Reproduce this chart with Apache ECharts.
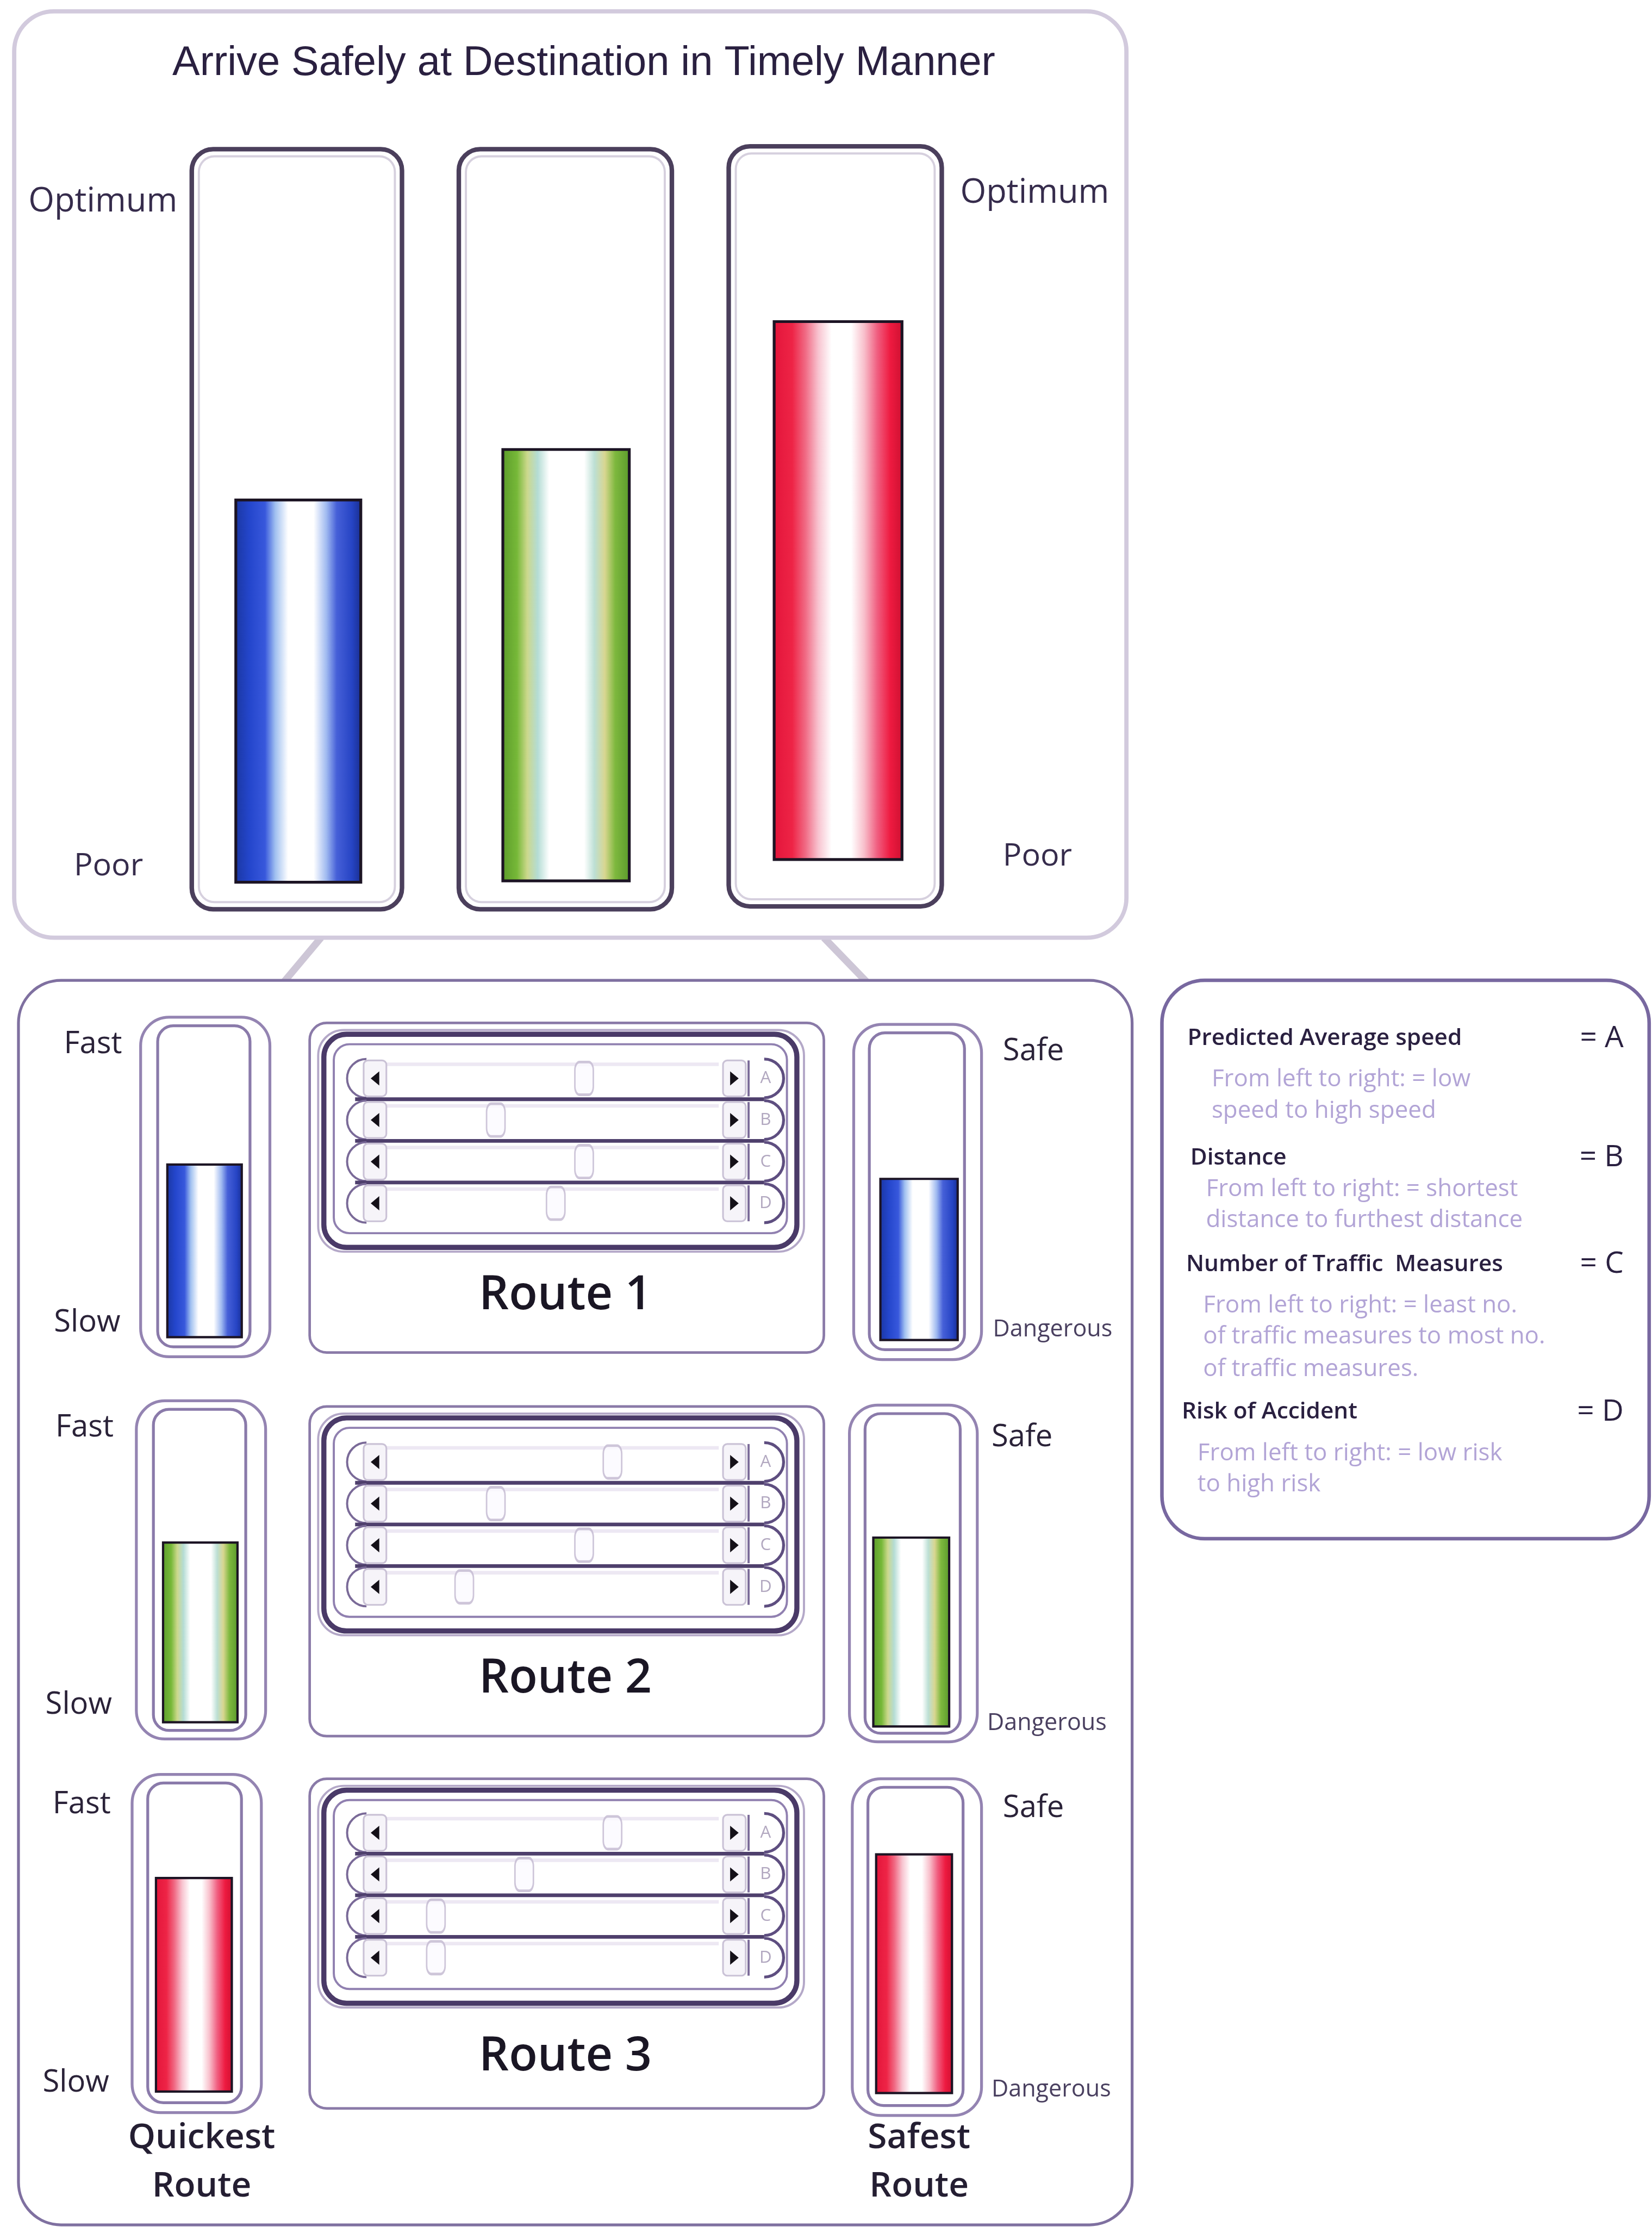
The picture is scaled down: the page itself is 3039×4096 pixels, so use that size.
<!DOCTYPE html>
<html>
<head>
<meta charset="utf-8">
<script src="https://cdn.jsdelivr.net/npm/echarts@6/dist/echarts.min.js"></script>
<style>
  html, body { margin: 0; padding: 0; background: #ffffff; }
  #chart { width: 3039px; height: 4096px; }
</style>
</head>
<body>
<div id="chart"></div>
<script>
// layout is measured on a 1163 px wide copy of the picture, then scaled up
const K = 3039 / 1163;
const px = v => v * K;

// ---- data ----
const routes = ['Route 1', 'Route 2', 'Route 3'];
const overallScore = [54, 61, 78];   // Poor (0) -> Optimum (100)
const speedScore = [57, 59, 71];     // Slow (0) -> Fast (100)
const safetyScore = [54, 62, 80];    // Dangerous (0) -> Safe (100)
const sliderRows = ['A', 'B', 'C', 'D'];
const route1Sliders = [60, 32, 60, 51];
const route2Sliders = [69, 32, 60, 22];
const route3Sliders = [69, 41, 13, 13];
const routeSliders = [route1Sliders, route2Sliders, route3Sliders];

const legendItems = [
  { title: 'Predicted Average speed', key: '= A', lines: ['From left to right: = low', 'speed to high speed'] },
  { title: 'Distance', key: '= B', lines: ['From left to right: = shortest', 'distance to furthest distance'] },
  { title: 'Number of Traffic  Measures', key: '= C', lines: ['From left to right: = least no.', 'of traffic measures to most no.', 'of traffic measures.'] },
  { title: 'Risk of Accident', key: '= D', lines: ['From left to right: = low risk', 'to high risk'] }
];

// ---- layout ----
const topFrames = [
  { x0: 135, x1: 283, y0: 105, y1: 640 },
  { x0: 323, x1: 473, y0: 105, y1: 640 },
  { x0: 513, x1: 663, y0: 103, y1: 638 }
];
const topBars = [
  { x0: 165, x1: 255, top: 120, bottom: 622 },
  { x0: 353, x1: 444, top: 120, bottom: 621 },
  { x0: 544, x1: 636, top: 118, bottom: 606 }
];
const leftGauges = [
  { ox0: 99, ox1: 190, oy0: 716, oy1: 955, ix0: 111, ix1: 176, iy0: 722, iy1: 948, x0: 117, x1: 171, top: 726, bottom: 942 },
  { ox0: 96, ox1: 187, oy0: 986, oy1: 1224, ix0: 108, ix1: 173, iy0: 992, iy1: 1218, x0: 114, x1: 168, top: 996, bottom: 1213 },
  { ox0: 93, ox1: 184, oy0: 1249, oy1: 1487, ix0: 104, ix1: 170, iy0: 1255, iy1: 1480, x0: 109, x1: 164, top: 1259, bottom: 1473 }
];
const rightGauges = [
  { ox0: 601, ox1: 691, oy0: 721, oy1: 957, ix0: 612, ix1: 679, iy0: 727, iy1: 950, x0: 619, x1: 675, top: 731, bottom: 944 },
  { ox0: 598, ox1: 688, oy0: 989, oy1: 1226, ix0: 609, ix1: 676, iy0: 995, iy1: 1220, x0: 614, x1: 669, top: 999, bottom: 1216 },
  { ox0: 600, ox1: 691, oy0: 1252, oy1: 1489, ix0: 611, ix1: 678, iy0: 1258, iy1: 1482, x0: 616, x1: 671, top: 1262, bottom: 1474 }
];
const panelTops = [720, 990, 1252];
const sliderTops = [744.4, 1014.4, 1275.4];
const routeLabelY = [912, 1182, 1448];
const sideLabels = [
  { fast: [45, 735], slow: [38, 931], safe: [706, 740], danger: [699, 936] },
  { fast: [39, 1005], slow: [32, 1200], safe: [698, 1012], danger: [695, 1213] },
  { fast: [37, 1270], slow: [30, 1466], safe: [706, 1273], danger: [698, 1471] }
];

const gradStops = [
  [[0, '#1a36a0'], [0.12, '#2446cc'], [0.24, '#3858dc'], [0.32, '#a0c0f0'], [0.42, '#ffffff'], [0.62, '#ffffff'], [0.72, '#a0baf0'], [0.8, '#4660d8'], [0.92, '#2644c4'], [1, '#182c8c']],
  [[0, '#5a9a2a'], [0.12, '#76b838'], [0.2, '#ccd88c'], [0.28, '#b4dcd4'], [0.37, '#ffffff'], [0.64, '#ffffff'], [0.72, '#bcdfd4'], [0.8, '#d8d690'], [0.88, '#7eb83e'], [1, '#58982a']],
  [[0, '#e2143a'], [0.15, '#ee2446'], [0.25, '#f06a84'], [0.35, '#f8c4d0'], [0.45, '#ffffff'], [0.6, '#ffffff'], [0.7, '#f8bfcb'], [0.8, '#f05e80'], [0.9, '#ee1a40'], [1, '#cc1030']]
];

const LABEL_FONT = '"Open Sans", "DejaVu Sans", sans-serif';
const TITLE_FONT = '"Liberation Sans", Arial, sans-serif';

function font(size, weight) {
  return (weight || 'normal') + ' ' + px(size).toFixed(1) + 'px ' + LABEL_FONT;
}

function gradient(i) {
  return {
    type: 'linear', x: 0, y: 0, x2: 1, y2: 0,
    colorStops: gradStops[i].map(s => ({ offset: s[0], color: s[1] }))
  };
}

const grids = [];
const xAxes = [];
const yAxes = [];
const series = [];

function addGauge(rect, name, value, colorIndex, borderW) {
  const i = grids.length;
  grids.push({
    left: px(rect.x0), top: px(rect.top),
    width: px(rect.x1 - rect.x0), height: px(rect.bottom - rect.top)
  });
  xAxes.push({ type: 'category', gridIndex: i, data: [name], show: false });
  yAxes.push({ type: 'value', gridIndex: i, min: 0, max: 100, show: false });
  series.push({
    type: 'bar', xAxisIndex: i, yAxisIndex: i, data: [value],
    barWidth: '100%', silent: true,
    itemStyle: { color: gradient(colorIndex), borderColor: '#1c1424', borderWidth: px(borderW) }
  });
}

function renderSliderRow(params, api) {
  const cs = params.coordSys;
  const idx = api.value(1);
  const c = api.coord([0, idx]);
  const h = api.size([0, 1])[1];
  const cy = c[1];
  const x0 = cs.x;
  const x1 = cs.x + cs.width;
  const ch = [];
  ch.push({ type: 'line', shape: { x1: x0 - px(6), y1: cy - h * 0.34, x2: x1 + px(6), y2: cy - h * 0.34 },
    style: { stroke: '#ede8f3', lineWidth: px(2.5) } });
  ch.push({ type: 'arc', shape: { cx: x0 - px(20), cy: cy, r: h / 2 - px(1), startAngle: Math.PI / 2, endAngle: Math.PI * 1.5 },
    style: { stroke: '#7a6a98', lineWidth: px(1.5), fill: null } });
  ch.push({ type: 'arc', shape: { cx: x1 + px(38), cy: cy, r: h / 2 - px(1), startAngle: -Math.PI / 2, endAngle: Math.PI / 2 },
    style: { stroke: '#5e4e80', lineWidth: px(2), fill: null } });
  ch.push({ type: 'line', shape: { x1: x1 + px(27), y1: cy - h / 2 + px(2), x2: x1 + px(27), y2: cy + h / 2 - px(2) },
    style: { stroke: '#7a6a98', lineWidth: px(1.5) } });
  ch.push({ type: 'text', style: { text: sliderRows[idx], x: x1 + px(39), y: cy, fill: '#b2a8c0',
    font: font(12), textAlign: 'center', textVerticalAlign: 'middle', align: 'center', verticalAlign: 'middle' } });
  ch.push({ type: 'rect', shape: { x: x0 - px(22), y: cy - h / 2 + px(2), width: px(16), height: h - px(4), r: px(3) },
    style: { stroke: '#cac2d6', lineWidth: px(1.2), fill: '#f6f4f9' } });
  ch.push({ type: 'polygon', shape: { points: [[x0 - px(11), cy - px(5)], [x0 - px(17), cy], [x0 - px(11), cy + px(5)]] },
    style: { fill: '#141018' } });
  ch.push({ type: 'rect', shape: { x: x1 + px(9), y: cy - h / 2 + px(2), width: px(16), height: h - px(4), r: px(3) },
    style: { stroke: '#cac2d6', lineWidth: px(1.2), fill: '#f6f4f9' } });
  ch.push({ type: 'polygon', shape: { points: [[x1 + px(14), cy - px(5)], [x1 + px(20), cy], [x1 + px(14), cy + px(5)]] },
    style: { fill: '#141018' } });
  if (idx < sliderRows.length - 1) {
    ch.push({ type: 'line', shape: { x1: x0 - px(28), y1: cy + h / 2, x2: x1 + px(38), y2: cy + h / 2 },
      style: { stroke: '#4e3f6c', lineWidth: px(2.6) } });
  }
  return { type: 'group', children: ch };
}

function addSliders(r) {
  const i = grids.length;
  grids.push({ left: px(278), top: px(sliderTops[r]), width: px(222), height: px(117.2) });
  xAxes.push({ type: 'value', gridIndex: i, min: 0, max: 100, show: false });
  yAxes.push({ type: 'category', gridIndex: i, data: sliderRows, inverse: true, show: false });
  series.push({
    type: 'custom', xAxisIndex: i, yAxisIndex: i, clip: false, silent: true,
    data: sliderRows.map(s => [0, s]),
    renderItem: renderSliderRow
  });
  series.push({
    type: 'scatter', xAxisIndex: i, yAxisIndex: i, silent: true, z: 5,
    symbol: 'roundRect', symbolSize: [px(13), px(23)],
    itemStyle: { color: '#fbfaff', borderColor: '#c2b8d0', borderWidth: px(1.4) },
    data: routeSliders[r].map((v, k) => [v, sliderRows[k]])
  });
}

// top three gauges
routes.forEach((name, i) => addGauge(topBars[i], name, overallScore[i], i, 2));
// speed and safety gauges with the sliders of each route
routes.forEach((name, i) => {
  addGauge(leftGauges[i], name, speedScore[i], i, 1.6);
  addGauge(rightGauges[i], name, safetyScore[i], i, 1.6);
  addSliders(i);
});

// ---- decoration and text ----
const g = [];
function rect(x0, y0, x1, y1, r, stroke, lw, fill) {
  g.push({ type: 'rect', shape: { x: px(x0), y: px(y0), width: px(x1 - x0), height: px(y1 - y0), r: px(r) },
    style: { stroke: stroke, lineWidth: px(lw), fill: fill || null } });
}
function text(str, x, y, size, color, align, weight, family) {
  g.push({ type: 'text', x: px(x), y: px(y),
    style: { text: str, fill: color,
      font: (weight || 'normal') + ' ' + px(size).toFixed(1) + 'px ' + (family || LABEL_FONT),
      textAlign: align || 'left', textVerticalAlign: 'middle', align: align || 'left', verticalAlign: 'middle' } });
}

// connector between the panels
g.push({ type: 'line', shape: { x1: px(226), y1: px(660), x2: px(200), y2: px(691) }, style: { stroke: '#cdc6d6', lineWidth: px(5) } });
g.push({ type: 'line', shape: { x1: px(580), y1: px(660), x2: px(610), y2: px(691) }, style: { stroke: '#cdc6d6', lineWidth: px(5) } });

rect(10, 8, 793, 660, 28, '#d2cadd', 3, '#ffffff');
rect(13, 690, 797, 1566, 30, '#7f70a0', 2, '#ffffff');
rect(818, 690, 1161, 1083, 30, '#7868a0', 2.5, '#ffffff');

topFrames.forEach(f => {
  rect(f.x0, f.y0, f.x1, f.y1, 15, '#4b3f5c', 3.2);
  rect(f.x0 + 5, f.y0 + 5, f.x1 - 5, f.y1 - 5, 11, '#d6d0de', 1.5);
});

[leftGauges, rightGauges].forEach(list => list.forEach(q => {
  rect(q.ox0, q.oy0, q.ox1, q.oy1, 20, '#9484b2', 2);
  rect(q.ix0, q.iy0, q.ix1, q.iy1, 11, '#8a7aaa', 2);
}));

panelTops.forEach(t => {
  rect(218, t, 580, t + 232, 12, '#8a7aa8', 1.8);
  rect(224, t + 5, 566, t + 161, 18, '#b4a8c8', 1.5);
  rect(228, t + 8, 561, t + 158, 16, '#4a3a68', 3.6);
  rect(235, t + 15, 554, t + 148, 11, '#9080b0', 1.5);
});

// titles and labels
text('Arrive Safely at Destination in Timely Manner', 411, 45, 29, '#2a2040', 'center', 'normal', TITLE_FONT);
text('Optimum', 20, 142, 23.5, '#362c4c', 'left', '500');
text('Poor', 52, 610, 22, '#362c4c', 'left', '500');
text('Optimum', 676, 136, 23.5, '#362c4c', 'left', '500');
text('Poor', 706, 603, 22, '#362c4c', 'left', '500');

routes.forEach((name, i) => {
  const s = sideLabels[i];
  text('Fast', s.fast[0], s.fast[1], 21.5, '#2a2238', 'left', '500');
  text('Slow', s.slow[0], s.slow[1], 21.5, '#2a2238', 'left', '500');
  text('Safe', s.safe[0], s.safe[1], 21.5, '#2a2238', 'left', '500');
  text('Dangerous', s.danger[0], s.danger[1], 16.5, '#4a4060');
  text(name, 398, routeLabelY[i], 33, '#1a1624', 'center', '600');
});
text('Quickest', 142, 1505, 24.5, '#241e32', 'center', '600');
text('Route', 142, 1539, 24.5, '#241e32', 'center', '600');
text('Safest', 647, 1505, 24.5, '#241e32', 'center', '600');
text('Route', 647, 1539, 24.5, '#241e32', 'center', '600');

// legend panel
const legendLayout = [
  { tx: 836, ty: 731, sx: 853, sy: [760, 782] },
  { tx: 838, ty: 815, sx: 849, sy: [837, 859] },
  { tx: 835, ty: 890, sx: 847, sy: [919, 941, 964] },
  { tx: 832, ty: 994, sx: 843, sy: [1023, 1045] }
];
legendItems.forEach((item, i) => {
  const l = legendLayout[i];
  text(item.title, l.tx, l.ty, 16.2, '#2a2040', 'left', '600');
  text(item.key, 1143, l.ty, 21, '#2a2040', 'right');
  item.lines.forEach((line, k) => text(line, l.sx, l.sy[k], 16.8, '#b2a4d6'));
});

const chart = echarts.init(document.getElementById('chart'));
chart.setOption({
  backgroundColor: '#ffffff',
  animation: false,
  grid: grids,
  xAxis: xAxes,
  yAxis: yAxes,
  graphic: { elements: g },
  series: series
});
</script>
</body>
</html>
